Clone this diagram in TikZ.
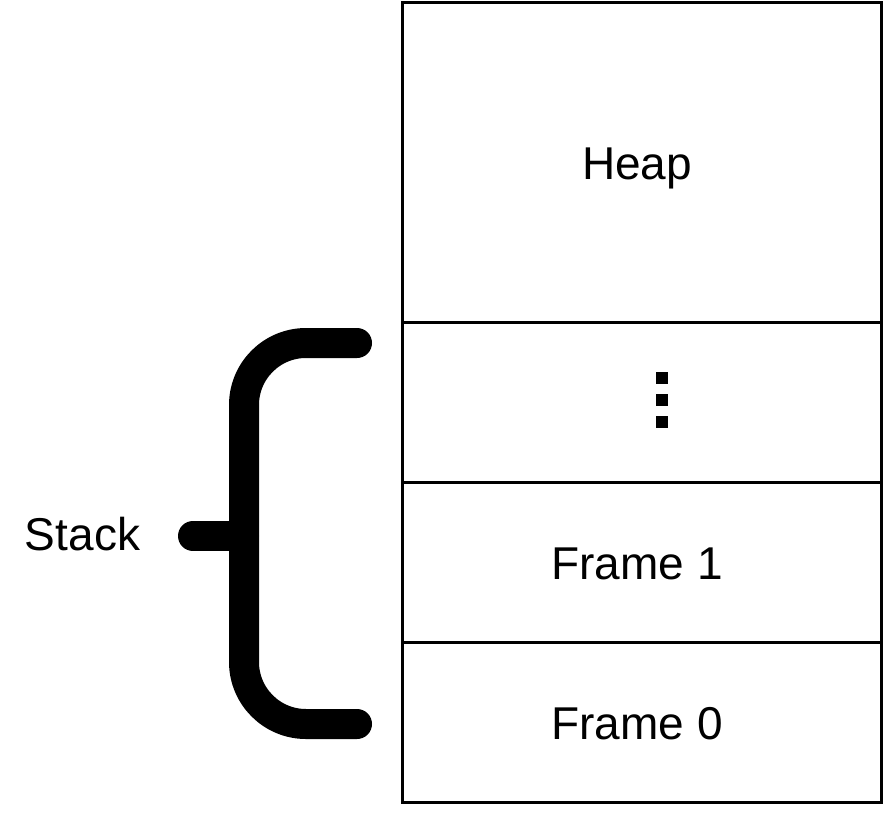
\documentclass[tikz,border=0pt]{standalone}
\usepackage{fontspec}
\setmainfont{Liberation Sans}
\begin{document}
\begin{tikzpicture}[x=1pt,y=-1pt,
  cell/.style={draw=black,line width=3pt,minimum width=479pt,inner sep=0pt,outer sep=0pt,anchor=north west},
  lbl/.style={font=\fontsize{46}{54}\selectfont,inner sep=0pt,anchor=base},
  dot/.style={fill=black,minimum size=12pt,inner sep=0pt},
  bracepath/.style={line width=30pt,line cap=round,rounded corners=62pt}]
\useasboundingbox (0,0) rectangle (884,836);
\node[cell,minimum height=320pt] (heap) at (402,2) {};
\node[cell,minimum height=160pt] (dots) at (402,322) {};
\node[cell,minimum height=160pt] (f1) at (402,482) {};
\node[cell,minimum height=160pt] (f0) at (402,642) {};
\node[lbl] (heapt) at (637,179) {Heap};
\node[lbl] (f1t) at (637,579) {Frame 1};
\node[lbl] (f0t) at (637,739) {Frame 0};
\node[dot] (d1) at (662,378) {};
\node[dot] (d2) at (662,400) {};
\node[dot] (d3) at (662,422) {};
\node[lbl] (stack) at (82.5,550) {Stack};
\draw[bracepath] (357,343) -- (244,343) -- (244,724) -- (357,724);
\draw[line width=30pt,line cap=round] (193,536) -- (244,536);
\end{tikzpicture}
\end{document}
